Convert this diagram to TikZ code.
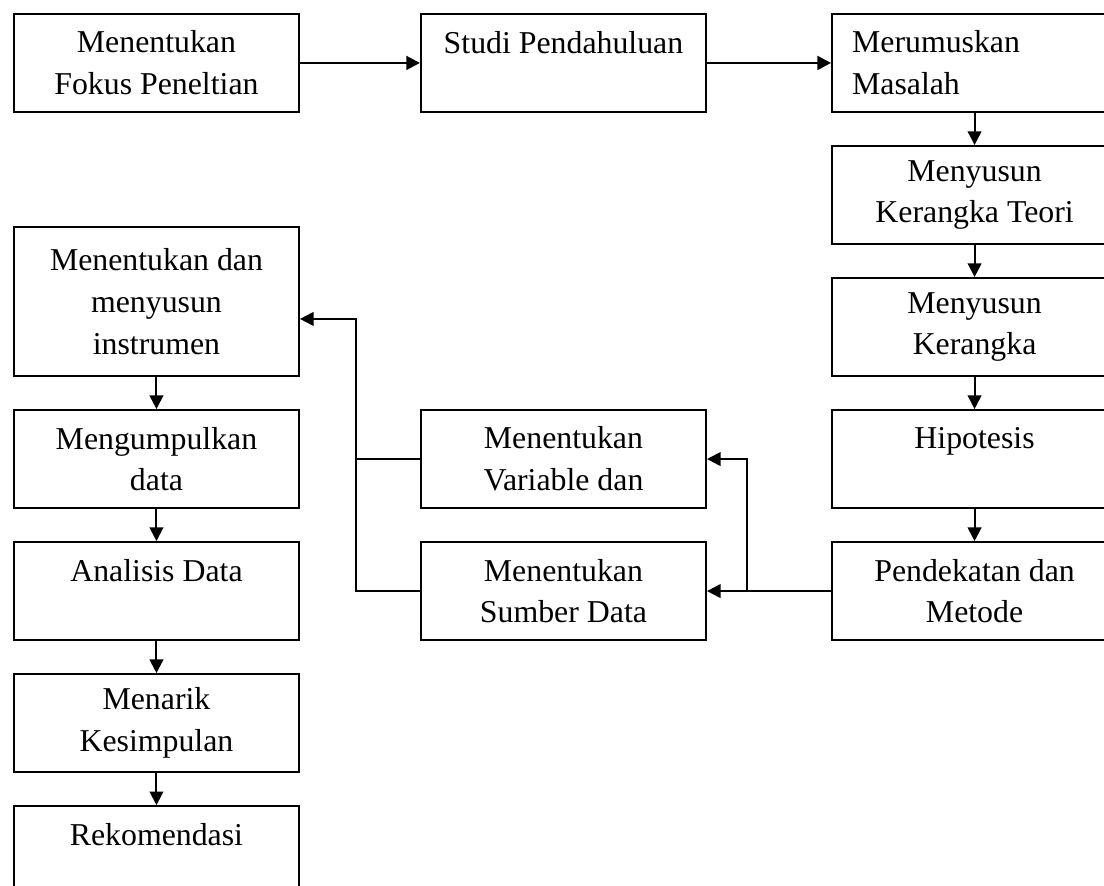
\documentclass[tikz,border=0pt]{standalone}
\usepackage{fontspec}
\setmainfont{Liberation Serif}
\usetikzlibrary{positioning,arrows.meta,calc}

\tikzset{
  box/.style={rectangle, draw, line width=0.9pt, align=center, font=\fontsize{14}{18.4}\selectfont, minimum width=125.4pt, minimum height=43.1pt, inner sep=2pt},
  tallbox/.style={box, minimum height=65.6pt},
}

\begin{document}
\begin{tikzpicture}[node distance=14.1pt, >={Triangle[length=6pt,width=6pt]}, line width=0.9pt]
      \useasboundingbox (0,0) rectangle (485.8pt,-389.8pt);
      \node (fokus) [box, anchor=north west] at (5.7pt,-5.7pt) {Menentukan\\Fokus Peneltian};
      \node (studi) [box, right=52.8pt of fokus] {Studi Pendahuluan\\~};
      \node (rumusan) [box, right=54.6pt of studi, text width=107.8pt, inner xsep=8.8pt, align=left] {Merumuskan\\Masalah};
      \node (teori) [box, below=of rumusan] {Menyusun\\Kerangka Teori};
      \node (kerangka) [box, below=of teori] {Menyusun\\Kerangka};
      \node (hipotesis) [box, below=of kerangka] {Hipotesis\\~};
      \node (metode) [box, below=of hipotesis] {Pendekatan dan\\Metode};
      \node (variabel) [box, left=54.6pt of hipotesis] {Menentukan\\Variable dan};
      \node (sumber) [box, left=54.6pt of metode] {Menentukan\\Sumber Data};
      \node (instrumen) [tallbox, below=49.7pt of fokus.south west, anchor=north west] {Menentukan dan\\menyusun\\instrumen};
      \node (kumpul) [box, below=of instrumen] {Mengumpulkan\\data};
      \node (analisis) [box, below=of kumpul] {Analisis Data\\~};
      \node (simpulan) [box, below=of analisis] {Menarik\\Kesimpulan};
      \node (rekomendasi) [box, below=of simpulan] {Rekomendasi\\~};
      \draw [->, line width=1.2pt] (fokus.east) -- (fokus.east -| studi.west);
      \draw [->, line width=1.2pt] (studi.east) -- (studi.east -| rumusan.west);
      \draw [->] (rumusan) -- (teori);
      \draw [->] (teori) -- (kerangka);
      \draw [->] (kerangka) -- (hipotesis);
      \draw [->] (hipotesis) -- (metode);
      \draw [->] (metode) -- (sumber);
      \coordinate (cabang) at ($(sumber.east)!0.32!(metode.west)$);
      \draw [->] (cabang) |- (variabel.east);
      \coordinate (masuk) at ([yshift=-7.7pt]instrumen.east);
      \coordinate (belok) at ([xshift=24.6pt]masuk);
      \draw [->] (sumber.west) -| (belok) -- (masuk);
      \draw (variabel.west) -- (variabel.west -| belok);
      \draw [->] (instrumen) -- (kumpul);
      \draw [->] (kumpul) -- (analisis);
      \draw [->] (analisis) -- (simpulan);
      \draw [->] (simpulan) -- (rekomendasi);
  \end{tikzpicture}
\end{document}
